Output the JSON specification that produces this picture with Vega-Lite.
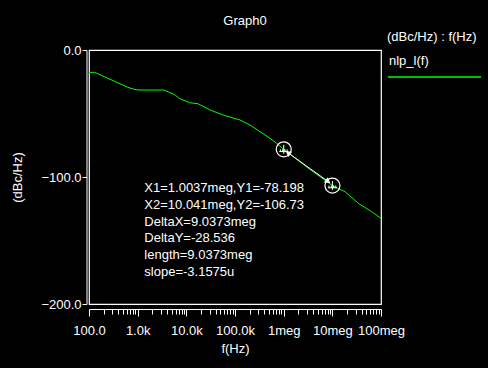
{
  "$schema": "https://vega.github.io/schema/vega-lite/v6.json",
  "width": 292,
  "height": 254,
  "autosize": {"type": "none"},
  "padding": {"left": 89, "top": 50, "right": 107, "bottom": 64},
  "background": "black",
  "config": {
    "font": "Liberation Sans",
    "view": {"stroke": "white", "strokeWidth": 1.2},
    "axis": {
      "domainColor": "white",
      "tickColor": "white",
      "labelColor": "white",
      "titleColor": "white",
      "grid": false,
      "labelFontSize": 13,
      "titleFontSize": 13,
      "titleFontWeight": "normal",
      "labelFont": "Liberation Sans",
      "titleFont": "Liberation Sans",
      "domainWidth": 1,
      "tickWidth": 1
    },
    "legend": {
      "labelColor": "white",
      "titleColor": "white",
      "labelFontSize": 13,
      "titleFontSize": 13,
      "titleFontWeight": "normal",
      "labelFont": "Liberation Sans",
      "titleFont": "Liberation Sans"
    }
  },
  "title": {
    "text": "Graph0",
    "color": "white",
    "fontSize": 13,
    "fontWeight": "normal",
    "font": "Liberation Sans",
    "anchor": "middle",
    "frame": "group",
    "baseline": "alphabetic",
    "dx": 10,
    "dy": 16,
    "offset": 9
  },
  "datasets": {
    "curve": [
      {"f": 100, "db": -17.6, "series": "nlp_l(f)"},
      {"f": 131, "db": -17.6, "series": "nlp_l(f)"},
      {"f": 245, "db": -22.3, "series": "nlp_l(f)"},
      {"f": 632, "db": -29.4, "series": "nlp_l(f)"},
      {"f": 841, "db": -30.9, "series": "nlp_l(f)"},
      {"f": 1016, "db": -31.5, "series": "nlp_l(f)"},
      {"f": 3477, "db": -31.5, "series": "nlp_l(f)"},
      {"f": 5770, "db": -35.2, "series": "nlp_l(f)"},
      {"f": 7310, "db": -38.3, "series": "nlp_l(f)"},
      {"f": 11730, "db": -41.5, "series": "nlp_l(f)"},
      {"f": 17370, "db": -42.3, "series": "nlp_l(f)"},
      {"f": 30650, "db": -47.2, "series": "nlp_l(f)"},
      {"f": 57450, "db": -51.2, "series": "nlp_l(f)"},
      {"f": 126700, "db": -55.1, "series": "nlp_l(f)"},
      {"f": 203400, "db": -59.1, "series": "nlp_l(f)"},
      {"f": 326000, "db": -64.3, "series": "nlp_l(f)"},
      {"f": 523000, "db": -69.5, "series": "nlp_l(f)"},
      {"f": 719000, "db": -73.5, "series": "nlp_l(f)"},
      {"f": 1003700, "db": -78.198, "series": "nlp_l(f)"},
      {"f": 3000000, "db": -92.3, "series": "nlp_l(f)"},
      {"f": 10041000, "db": -106.73, "series": "nlp_l(f)"},
      {"f": 18200000, "db": -111.6, "series": "nlp_l(f)"},
      {"f": 34100000, "db": -120.7, "series": "nlp_l(f)"},
      {"f": 64400000, "db": -127.3, "series": "nlp_l(f)"},
      {"f": 100000000, "db": -132.5, "series": "nlp_l(f)"}
    ],
    "markers": [
      {"f": 1003700, "db": -78.198},
      {"f": 10041000, "db": -106.73}
    ],
    "arrow": [
      {"f": 1228000, "db": -80.9, "end": "start"},
      {"f": 8150000, "db": -103.5, "end": "end"}
    ],
    "notes": [
      {"f": 1370, "db": -112.05, "text": "X1=1.0037meg,Y1=-78.198"},
      {"f": 1370, "db": -125.2, "text": "X2=10.041meg,Y2=-106.73"},
      {"f": 1370, "db": -138.35, "text": "DeltaX=9.0373meg"},
      {"f": 1370, "db": -151.4, "text": "DeltaY=-28.536"},
      {"f": 1370, "db": -164.6, "text": "length=9.0373meg"},
      {"f": 1370, "db": -177.7, "text": "slope=-3.1575u"}
    ]
  },
  "layer": [
    {
      "data": {"name": "curve"},
      "mark": {"type": "line", "strokeWidth": 1, "interpolate": "linear"},
      "encoding": {
        "x": {
          "field": "f",
          "type": "quantitative",
          "scale": {"type": "log", "domain": [100, 100000000], "nice": false},
          "axis": {
            "title": "f(Hz)",
            "offset": 5,
            "values": [100, 200, 300, 400, 500, 600, 700, 800, 900,
                       1000, 2000, 3000, 4000, 5000, 6000, 7000, 8000, 9000,
                       10000, 20000, 30000, 40000, 50000, 60000, 70000, 80000, 90000,
                       100000, 200000, 300000, 400000, 500000, 600000, 700000, 800000, 900000,
                       1000000, 2000000, 3000000, 4000000, 5000000, 6000000, 7000000, 8000000, 9000000,
                       10000000, 20000000, 30000000, 40000000, 50000000, 60000000, 70000000, 80000000, 90000000,
                       100000000],
            "labelExpr": "datum.value == 100 ? '100.0' : datum.value == 1000 ? '1.0k' : datum.value == 10000 ? '10.0k' : datum.value == 100000 ? '100.0k' : datum.value == 1000000 ? '1meg' : datum.value == 10000000 ? '10meg' : datum.value == 100000000 ? '100meg' : ''",
            "tickSize": {"condition": {"test": "indexof([100,1000,10000,100000,1000000,10000000,100000000], datum.value) >= 0", "value": 7}, "value": 5},
            "labelFlush": false,
            "labelOverlap": false,
            "labelPadding": 8,
            "titlePadding": 5
          }
        },
        "y": {
          "field": "db",
          "type": "quantitative",
          "scale": {"domain": [-200, 0], "nice": false, "zero": false},
          "axis": {
            "title": "(dBc/Hz)",
            "values": [0, -100, -200],
            "labelExpr": "format(datum.value, '.1f')",
            "offset": 2.5,
            "tickSize": 4.5,
            "labelPadding": 1,
            "titlePadding": 16
          }
        },
        "stroke": {
          "field": "series",
          "type": "nominal",
          "scale": {"domain": ["nlp_l(f)"], "range": ["#00ff00"]},
          "legend": {
            "orient": "none",
            "legendX": 298,
            "legendY": -19,
            "title": "(dBc/Hz) : f(Hz)",
            "titlePadding": 6,
            "symbolType": "M-1,1.6H8.3",
            "symbolSize": 400,
            "symbolStrokeWidth": 1.5,
            "labelOffset": -20
          }
        }
      }
    },
    {
      "data": {"name": "arrow"},
      "mark": {"type": "line", "color": "white", "strokeWidth": 1},
      "encoding": {
        "x": {"field": "f", "type": "quantitative"},
        "y": {"field": "db", "type": "quantitative"}
      }
    },
    {
      "data": {"name": "arrow"},
      "transform": [{"filter": "datum.end == 'start'"}],
      "mark": {"type": "point", "shape": "triangle-up", "filled": true, "color": "white", "size": 40, "angle": 305.7, "opacity": 1},
      "encoding": {
        "x": {"field": "f", "type": "quantitative"},
        "y": {"field": "db", "type": "quantitative"}
      }
    },
    {
      "data": {"name": "arrow"},
      "transform": [{"filter": "datum.end == 'end'"}],
      "mark": {"type": "point", "shape": "triangle-up", "filled": true, "color": "white", "size": 40, "angle": 125.7, "opacity": 1},
      "encoding": {
        "x": {"field": "f", "type": "quantitative"},
        "y": {"field": "db", "type": "quantitative"}
      }
    },
    {
      "data": {"name": "markers"},
      "mark": {"type": "point", "shape": "circle", "filled": false, "stroke": "white", "strokeWidth": 1.2, "size": 225, "opacity": 1},
      "encoding": {
        "x": {"field": "f", "type": "quantitative"},
        "y": {"field": "db", "type": "quantitative"}
      }
    },
    {
      "data": {"name": "markers"},
      "mark": {"type": "point", "shape": "M-0.6,0.3H0.6M-0.45,0.3V0M-0.15,0.3V0M0.15,0.3V0M0.45,0.3V0M0,-0.6V0.6", "filled": false, "stroke": "white", "strokeWidth": 1, "size": 225, "opacity": 1},
      "encoding": {
        "x": {"field": "f", "type": "quantitative"},
        "y": {"field": "db", "type": "quantitative"}
      }
    },
    {
      "data": {"name": "notes"},
      "mark": {"type": "text", "align": "left", "baseline": "alphabetic", "color": "white", "fontSize": 13, "font": "Liberation Sans"},
      "encoding": {
        "x": {"field": "f", "type": "quantitative"},
        "y": {"field": "db", "type": "quantitative"},
        "text": {"field": "text"}
      }
    }
  ]
}
